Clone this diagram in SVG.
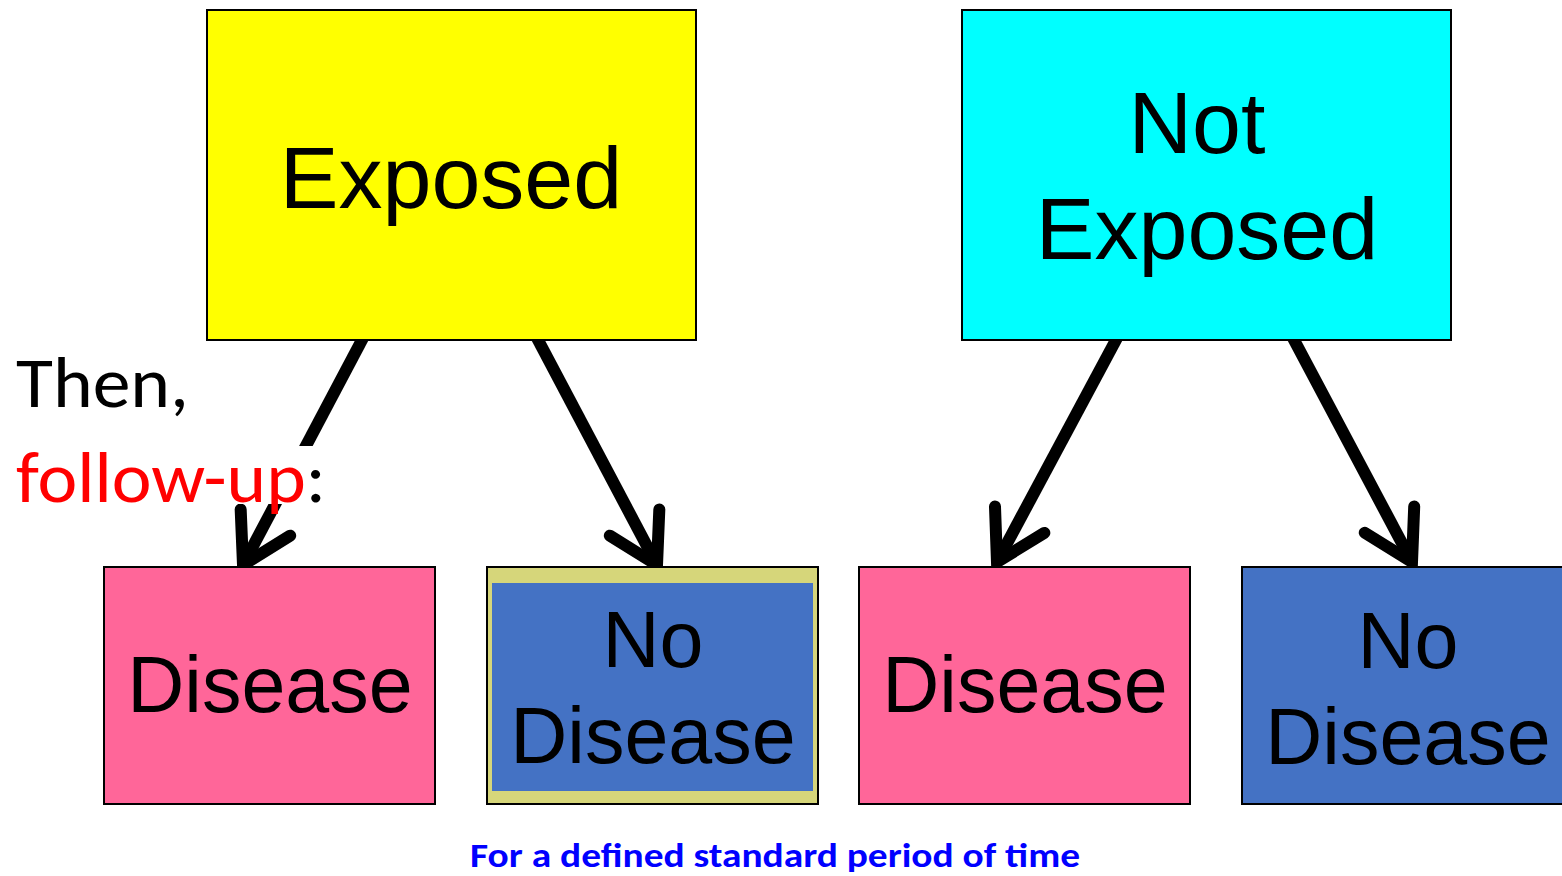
<svg xmlns="http://www.w3.org/2000/svg" width="1562" height="876" viewBox="0 0 1562 876">
  <style>
    .box { stroke: #000; stroke-width: 2; }
    .lbl { font-family: "Liberation Sans", Arial, sans-serif; fill: #000; text-anchor: middle; }
    .big { font-size: 88px; }
    .mid { font-size: 79px; }
    .shaft { stroke: #000; stroke-width: 12; fill: none; }
    .note { font-family: Carlito, Lato, "Open Sans", sans-serif; font-size: 71px; }
  </style>
  <defs>
    <marker id="vhead" markerUnits="userSpaceOnUse" viewBox="-70 -40 80 80" markerWidth="80" markerHeight="80" refX="0" refY="0" orient="auto" overflow="visible">
      <path d="M-48,-28 L0,0 L-48,28" fill="none" stroke="#000" stroke-width="12" stroke-linecap="round" stroke-linejoin="miter"/>
    </marker>
  </defs>

  <rect width="1562" height="876" fill="#fff"/>

  <!-- connectors -->
  <g id="connectors">
    <line class="shaft" x1="363" y1="338" x2="243" y2="565" marker-end="url(#vhead)"/>
    <line class="shaft" x1="537" y1="338" x2="657" y2="565" marker-end="url(#vhead)"/>
    <line class="shaft" x1="1117" y1="338" x2="997" y2="562" marker-end="url(#vhead)"/>
    <line class="shaft" x1="1293" y1="338" x2="1412" y2="562" marker-end="url(#vhead)"/>
  </g>

  <g id="exposed">
    <rect class="box" x="207" y="10" width="489" height="330" fill="#ffff00"/>
    <text class="lbl big" x="451" y="208">Exposed</text>
  </g>

  <g id="not-exposed">
    <rect class="box" x="962" y="10" width="489" height="330" fill="#00ffff"/>
    <text class="lbl big" x="1197" y="153">Not</text>
    <text class="lbl big" x="1207" y="259">Exposed</text>
  </g>

  <g id="exposed-disease">
    <rect class="box" x="104" y="567" width="331" height="237" fill="#ff6699"/>
    <text class="lbl mid" x="270" y="712">Disease</text>
  </g>

  <g id="exposed-no-disease">
    <rect class="box" x="487" y="567" width="331" height="237" fill="#d6d67a"/>
    <rect x="492" y="583" width="321" height="208" fill="#4472c4"/>
    <text class="lbl mid" x="653" y="667">No</text>
    <text class="lbl mid" x="653" y="763">Disease</text>
  </g>

  <g id="unexposed-disease">
    <rect class="box" x="859" y="567" width="331" height="237" fill="#ff6699"/>
    <text class="lbl mid" x="1025" y="712">Disease</text>
  </g>

  <g id="unexposed-no-disease">
    <rect class="box" x="1242" y="567" width="340" height="237" fill="#4472c4"/>
    <text class="lbl mid" x="1408" y="668">No</text>
    <text class="lbl mid" x="1408" y="764">Disease</text>
  </g>

  <!-- side note; its white backing hides part of the first connector -->
  <g id="follow-up-note">
    <rect x="8" y="446" width="330" height="58" fill="#fff"/>
    <text class="note" x="16" y="407" fill="#000" textLength="173" lengthAdjust="spacingAndGlyphs">Then,</text>
    <text class="note" x="16" y="502" textLength="310" lengthAdjust="spacingAndGlyphs"><tspan fill="#ff0000">follow-up</tspan><tspan fill="#000">:</tspan></text>
  </g>

  <g id="period-caption">
    <text x="470" y="867" font-family="Carlito, Lato, 'Open Sans', sans-serif" font-weight="bold" font-size="34" fill="#0000ff" textLength="610" lengthAdjust="spacingAndGlyphs">For a defined standard period of time</text>
  </g>
</svg>
